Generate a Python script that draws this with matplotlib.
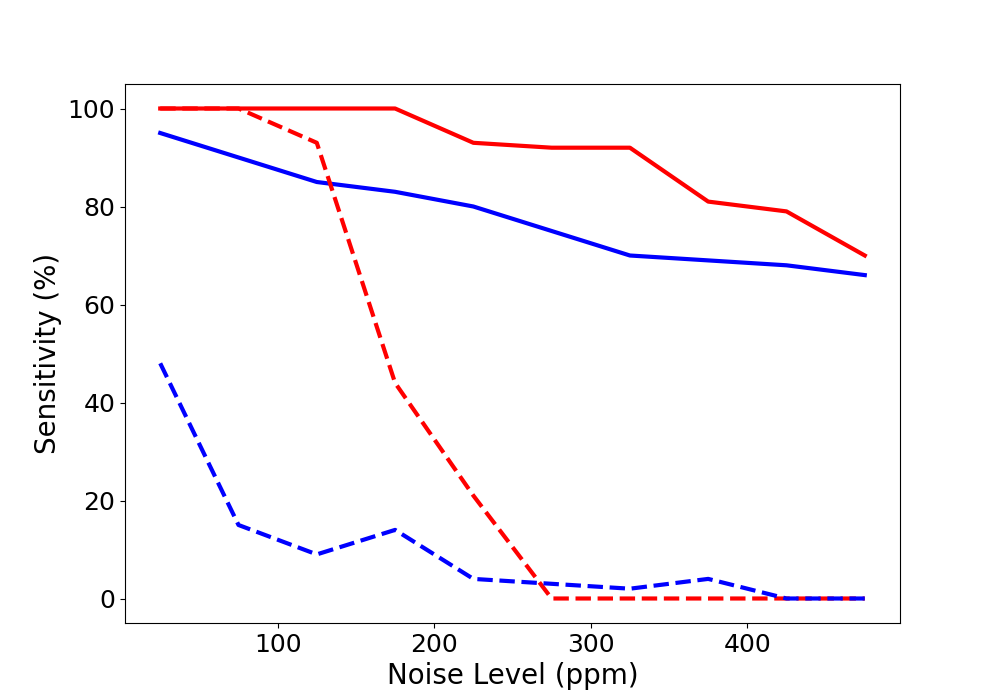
import matplotlib
matplotlib.use("Agg")
import matplotlib.pyplot as plt

noise_ppm = [25, 75, 125, 175, 225, 275, 325, 375, 425, 475]

red_solid = [100, 100, 100, 100, 93, 92, 92, 81, 79, 70]
blue_solid = [95, 90, 85, 83, 80, 75, 70, 69, 68, 66]
red_dashed = [100, 100, 93, 44, 21, 0, 0, 0, 0, 0]
blue_dashed = [48, 15, 9, 14, 4, 3, 2, 4, 0, 0]

fig, ax = plt.subplots(figsize=(10, 7), dpi=100)
ax.plot(noise_ppm, red_solid, color='red', linewidth=3)
ax.plot(noise_ppm, blue_solid, color='blue', linewidth=3)
ax.plot(noise_ppm, red_dashed, color='red', linewidth=3, linestyle='--')
ax.plot(noise_ppm, blue_dashed, color='blue', linewidth=3, linestyle='--')

ax.set_xlabel('Noise Level (ppm)', fontsize=20)
ax.set_ylabel('Sensitivity (%)', fontsize=20)
ax.tick_params(labelsize=18)

plt.savefig('out.png')
plt.close()
